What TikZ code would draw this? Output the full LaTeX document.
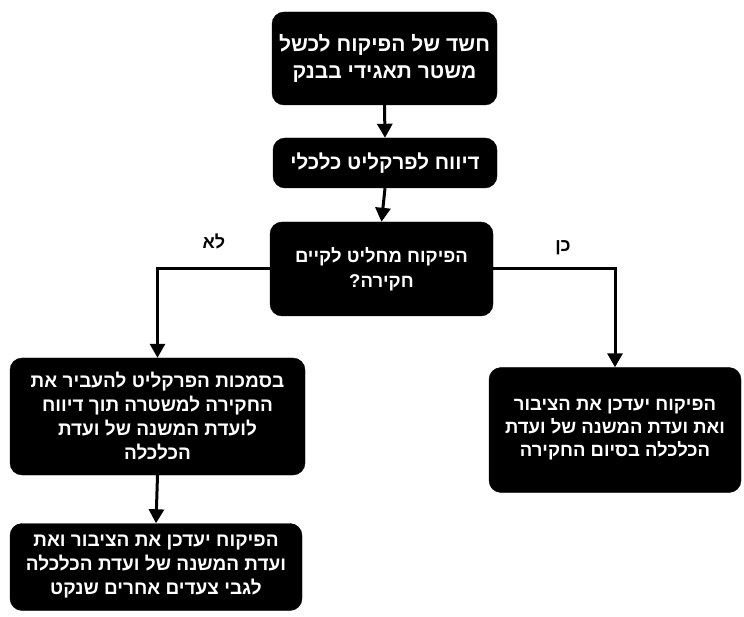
\documentclass[tikz,border=0pt]{standalone}
\usepackage{fontspec}
\setmainfont{Liberation Sans}
\newfontfamily\hebfont[Script=Hebrew]{Liberation Sans}
\TeXXeTstate=1
\usetikzlibrary{arrows.meta}
\newcommand{\heb}[1]{\beginR #1\endR}
\tikzset{
  box/.style={draw=black, fill=black, rounded corners=12pt, text=white,
    font=\hebfont\bfseries\fontsize{19}{24}\selectfont, align=center,
    inner sep=0pt},
  conn/.style={line width=3pt, -{Triangle[length=14pt,width=15pt]}},
  lbl/.style={font=\hebfont\bfseries\fontsize{18}{22}\selectfont}
}
\begin{document}
\begin{tikzpicture}[x=1pt,y=-1pt]
\useasboundingbox (0,0) rectangle (744,617);
\node[box, minimum width=225pt, minimum height=93pt,
  font=\hebfont\bfseries\fontsize{21}{27}\selectfont] (b1) at (384.5,58.5)
  {\heb{חשד של הפיקוח לכשל}\\\heb{משטר תאגידי בבנק}};
\node[box, minimum width=224pt, minimum height=50pt,
  font=\hebfont\bfseries\fontsize{20.5}{26}\selectfont] (b2) at (385,163)
  {\heb{דיווח לפרקליט כלכלי}};
\node[box, minimum width=223pt, minimum height=94pt,
  font=\hebfont\bfseries\fontsize{18.5}{25}\selectfont] (b3) at (381.5,269)
  {\heb{הפיקוח מחליט לקיים}\\\heb{חקירה?}};
\node[box, minimum width=295pt, minimum height=117pt] (b4) at (157.5,416.5)
  {\heb{בסמכות הפרקליט להעביר את}\\\heb{החקירה למשטרה תוך דיווח}\\\heb{לועדת המשנה של ועדת}\\\heb{הכלכלה}};
\node[box, minimum width=252pt, minimum height=125pt,
  font=\hebfont\bfseries\fontsize{18.5}{23}\selectfont] (b5) at (615,430)
  {\heb{הפיקוח יעדכן את הציבור}\\\heb{ואת ועדת המשנה של ועדת}\\\heb{הכלכלה בסיום החקירה}};
\node[box, minimum width=292pt, minimum height=87pt] (b6) at (156,567)
  {\heb{הפיקוח יעדכן את הציבור ואת}\\\heb{ועדת המשנה של ועדת הכלכלה}\\\heb{לגבי צעדים אחרים שנקט}};
\node[lbl] (no) at (214,241) {\heb{לא}};
\node[lbl] (yes) at (563,248) {\heb{כן}};
\draw[conn] (b1.south) -- (b2.north);
\draw[conn] (b2.south) -- (b3.north);
\draw[conn] (b3.west) -| (b4.north);
\draw[conn] (b3.east) -| (b5.north);
\draw[conn] (b4.south) -- (b6.north);
\end{tikzpicture}
\end{document}
